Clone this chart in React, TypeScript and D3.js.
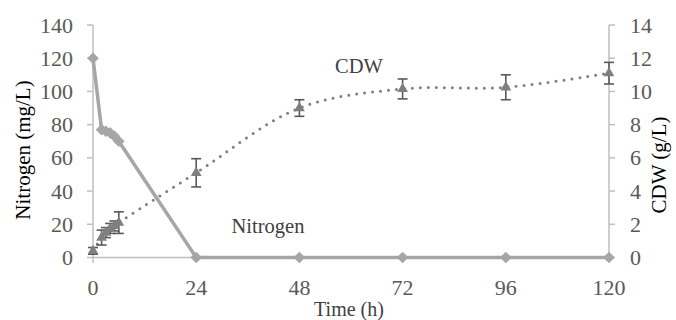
import * as d3 from "d3";

const hours = [0, 2, 3, 4, 5, 6, 24, 48, 72, 96, 120];
const nitrogen = [120, 77, 76, 75, 73, 70, 0, 0, 0, 0, 0];
const cdw = [0.4, 1.2, 1.5, 1.75, 1.9, 2.1, 5.1, 9.0, 10.15, 10.25, 11.1];
const cdwErr = [0.2, 0.45, 0.3, 0.3, 0.3, 0.65, 0.85, 0.5, 0.6, 0.75, 0.65];

const xTicks = [0, 24, 48, 72, 96, 120];
const leftTicks = [0, 20, 40, 60, 80, 100, 120, 140];
const rightTicks = [0, 2, 4, 6, 8, 10, 12, 14];

const W = 676;
const H = 320;
const FONT =
  '"Liberation Serif", "Tinos", "Times New Roman", Times, "Noto Serif", "DejaVu Serif", "FreeSerif", serif';

export default function App() {
  const x = d3.scaleLinear().domain([0, 120]).range([93, 609]);
  const yL = d3.scaleLinear().domain([0, 140]).range([257.5, 25]);
  const yR = d3.scaleLinear().domain([0, 14]).range([257.5, 25]);

  const nLine = d3
    .line<number>()
    .x((_, i) => x(hours[i]))
    .y((d) => yL(d));

  const cLine = d3
    .line<number>()
    .x((_, i) => x(hours[i]))
    .y((d) => yR(d))
    .curve(d3.curveCatmullRom);

  const diamond = d3.symbol().type(d3.symbolSquare).size(68)();
  const triangle = d3.symbol().type(d3.symbolTriangle).size(50)();

  const axisColor = "#bfbfbf";
  const tickText = "#595959";

  return (
    <div style={{ position: "absolute", left: 0, top: 0 }}>
      <svg width={W} height={H} style={{ display: "block", background: "#fff", fontFamily: FONT }}>
        {/* axes */}
        <line x1={93} x2={93} y1={25} y2={263} stroke={axisColor} strokeWidth={1.5} />
        <line x1={609} x2={609} y1={25} y2={257.5} stroke={axisColor} strokeWidth={1.5} />
        <line x1={93} x2={609} y1={257.5} y2={257.5} stroke={axisColor} strokeWidth={1.5} />
        {leftTicks.map((t) => (
          <g key={"l" + t}>
            <line x1={87} x2={93} y1={yL(t)} y2={yL(t)} stroke={axisColor} strokeWidth={1.5} />
            <text x={73} y={yL(t)} textAnchor="end" dominantBaseline="central" fontSize={22} fill={tickText}>
              {t}
            </text>
          </g>
        ))}
        {rightTicks.map((t) => (
          <g key={"r" + t}>
            <line x1={609} x2={615} y1={yR(t)} y2={yR(t)} stroke={axisColor} strokeWidth={1.5} />
            <text x={630} y={yR(t)} textAnchor="start" dominantBaseline="central" fontSize={22} fill={tickText}>
              {t}
            </text>
          </g>
        ))}
        {xTicks.map((t) => (
          <text key={"x" + t} x={x(t)} y={295} textAnchor="middle" fontSize={22} fill={tickText}>
            {t}
          </text>
        ))}

        {/* axis titles */}
        <text transform="translate(30,150) rotate(-90)" textAnchor="middle" fontSize={21} fill="#000">
          Nitrogen (mg/L)
        </text>
        <text transform="translate(666,165) rotate(-90)" textAnchor="middle" fontSize={21} fill="#000">
          CDW (g/L)
        </text>
        <text x={349} y={316} textAnchor="middle" fontSize={20} fill="#404040">
          Time (h)
        </text>

        {/* nitrogen series */}
        <path d={nLine(nitrogen) ?? ""} fill="none" stroke="#a6a6a6" strokeWidth={3.5} strokeLinejoin="round" />
        {nitrogen.map((v, i) => (
          <path
            key={"n" + i}
            d={diamond ?? ""}
            transform={`translate(${x(hours[i])},${yL(v)}) rotate(45)`}
            fill="#a6a6a6"
          />
        ))}

        {/* CDW series */}
        <path
          d={cLine(cdw) ?? ""}
          fill="none"
          stroke="#7f7f7f"
          strokeWidth={3}
          strokeLinecap="round"
          strokeDasharray="0 8"
        />
        {cdw.map((v, i) => {
          const cx = x(hours[i]);
          const top = yR(v + cdwErr[i]);
          const bot = yR(v - cdwErr[i]);
          return (
            <g key={"e" + i} stroke="#595959" strokeWidth={1.6}>
              <line x1={cx} x2={cx} y1={top} y2={bot} />
              <line x1={cx - 5} x2={cx + 5} y1={top} y2={top} />
              <line x1={cx - 5} x2={cx + 5} y1={bot} y2={bot} />
            </g>
          );
        })}
        {cdw.map((v, i) => (
          <path key={"c" + i} d={triangle ?? ""} transform={`translate(${x(hours[i])},${yR(v)})`} fill="#7f7f7f" />
        ))}

        {/* series labels */}
        <text x={359} y={73} textAnchor="middle" fontSize={20.5} fill="#404040">
          CDW
        </text>
        <text x={268} y={233} textAnchor="middle" fontSize={20.5} fill="#404040">
          Nitrogen
        </text>
      </svg>
    </div>
  );
}
